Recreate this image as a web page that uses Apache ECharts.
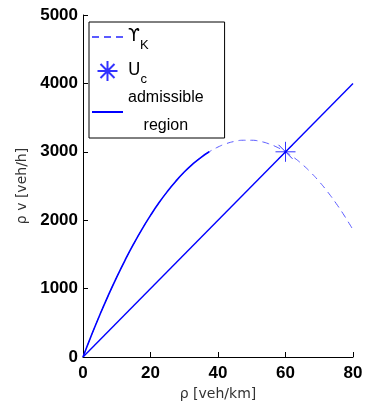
<!DOCTYPE html>
<html>
<head>
<meta charset="utf-8">
<script src="https://cdn.jsdelivr.net/npm/echarts@6/dist/echarts.min.js"></script>
<style>
  html, body { margin: 0; padding: 0; background: #fff; }
  #container { width: 366px; height: 403px; }
</style>
</head>
<body>
<div id="container"></div>
<script>
// density rho [veh/km] and flow rho*v [veh/h]
let rhoCurve = [0, 2.5, 5, 7.5, 10, 12.5, 15, 17.5, 20, 22.5, 25, 27.5, 30, 32.5, 35, 37.4,
    40, 42.5, 45, 47.5, 50, 52.5, 55, 57.5, 60, 62.5, 65, 67.5, 70, 72.5, 75, 77.5, 80];
let flowCurve = [0, 317, 618, 902, 1169, 1419, 1653, 1870, 2070, 2254, 2420, 2570, 2704, 2820, 2920, 3000,
    3070, 3120, 3153, 3169, 3169, 3152, 3118, 3067, 3000, 2916, 2815, 2698, 2564, 2413, 2245, 2061, 1860];
// admissible part of the curve ends where flow reaches the critical point flow
let admissibleCurveEnd = 15;
let lineRho = [0, 80];
let lineFlow = [0, 4000];
let criticalPoint = [60, 3000];

let xTicks = [0, 20, 40, 60, 80];
let yTicks = [0, 1000, 2000, 3000, 4000, 5000];

let curveData = rhoCurve.map(function (r, i) { return [r, flowCurve[i]]; });
let admissibleCurve = curveData.slice(0, admissibleCurveEnd + 1);
let lineData = lineRho.map(function (r, i) { return [r, lineFlow[i]]; });

let starPath = 'path://M0 10L20 10M10 0L10 20M3 3L17 17M17 3L3 17';

let labels = {
    'UpsilonK': '{g|ϒ}{s|K}',
    'Uc': '{g|U}{s|c}',
    'admissible region': '{t|admissible}\n{t|region}'
};

// legend line icons: hide the default circle marker
let noMarker = { color: 'rgba(0,0,0,0)', borderWidth: 0 };

let myChart = echarts.init(document.getElementById('container'));
let option = {
    animation: false,
    backgroundColor: '#fff',
    grid: { left: 83, right: 13, top: 15, bottom: 46, containLabel: false, outerBoundsMode: 'none' },
    legend: {
        orient: 'vertical',
        left: 89,
        top: 22,
        padding: [0, 21, 4, 2],
        itemGap: 4,
        itemWidth: 31,
        itemHeight: 20,
        borderColor: '#000',
        borderWidth: 1,
        borderRadius: 0,
        backgroundColor: '#fff',
        selectedMode: false,
        data: [
            { name: 'UpsilonK', itemStyle: noMarker },
            { name: 'Uc' },
            { name: 'admissible region', itemStyle: noMarker }
        ],
        formatter: function (name) {
            return labels[name];
        },
        textStyle: {
            color: '#000',
            rich: {
                g: { fontFamily: 'DejaVu Sans', fontSize: 17, lineHeight: 28, color: '#000' },
                s: { fontFamily: 'Liberation Sans', fontSize: 13, lineHeight: 28, padding: [17, 0, 0, 0], color: '#000' },
                t: { fontFamily: 'Liberation Sans', fontSize: 16, lineHeight: 28, align: 'center', color: '#000' }
            }
        }
    },
    xAxis: {
        type: 'value',
        min: 0,
        max: 80,
        interval: 20,
        name: 'ρ [veh/km]',
        nameLocation: 'middle',
        nameGap: 27,
        nameTextStyle: { fontFamily: 'DejaVu Sans', fontSize: 14, color: '#333' },
        axisLine: { lineStyle: { color: '#000', width: 1 } },
        axisTick: { inside: true, length: 5, lineStyle: { color: '#000' } },
        axisLabel: {
            fontFamily: 'Liberation Sans', fontSize: 17, fontWeight: 'bold', color: '#000', margin: 8,
            formatter: function (v) { return xTicks.indexOf(v) >= 0 ? String(v) : ''; }
        },
        splitLine: { show: false }
    },
    yAxis: {
        type: 'value',
        min: 0,
        max: 5000,
        interval: 1000,
        name: 'ρ v [veh/h]',
        nameLocation: 'middle',
        nameGap: 54,
        nameTextStyle: { fontFamily: 'DejaVu Sans', fontSize: 14, color: '#333' },
        axisLine: { show: true, lineStyle: { color: '#000', width: 1 } },
        axisTick: { show: true, inside: true, length: 5, lineStyle: { color: '#000' } },
        axisLabel: {
            fontFamily: 'Liberation Sans', fontSize: 17, fontWeight: 'bold', color: '#000', margin: 5,
            formatter: function (v) { return yTicks.indexOf(v) >= 0 ? String(v) : ''; }
        },
        splitLine: { show: false }
    },
    series: [{
        name: 'UpsilonK',
        type: 'line',
        data: curveData,
        symbol: 'none',
        smooth: true,
        lineStyle: { color: '#5a5aff', width: 1, type: [7, 5] },
        itemStyle: { color: '#5a5aff' },
        z: 2
    }, {
        name: 'admissible region',
        type: 'line',
        data: admissibleCurve,
        symbol: 'none',
        smooth: true,
        lineStyle: { color: '#0000ff', width: 1.6 },
        itemStyle: { color: '#0000ff' },
        z: 3
    }, {
        name: 'admissible region',
        type: 'line',
        data: lineData,
        symbol: 'none',
        lineStyle: { color: '#0000ff', width: 1.4 },
        itemStyle: { color: '#0000ff' },
        z: 3
    }, {
        name: 'Uc',
        type: 'scatter',
        data: [criticalPoint],
        symbol: starPath,
        symbolSize: 20,
        itemStyle: { color: 'rgba(0,0,0,0)', borderColor: '#0000ff', borderWidth: 1 },
        z: 4
    }]
};
myChart.setOption(option);
</script>
</body>
</html>
